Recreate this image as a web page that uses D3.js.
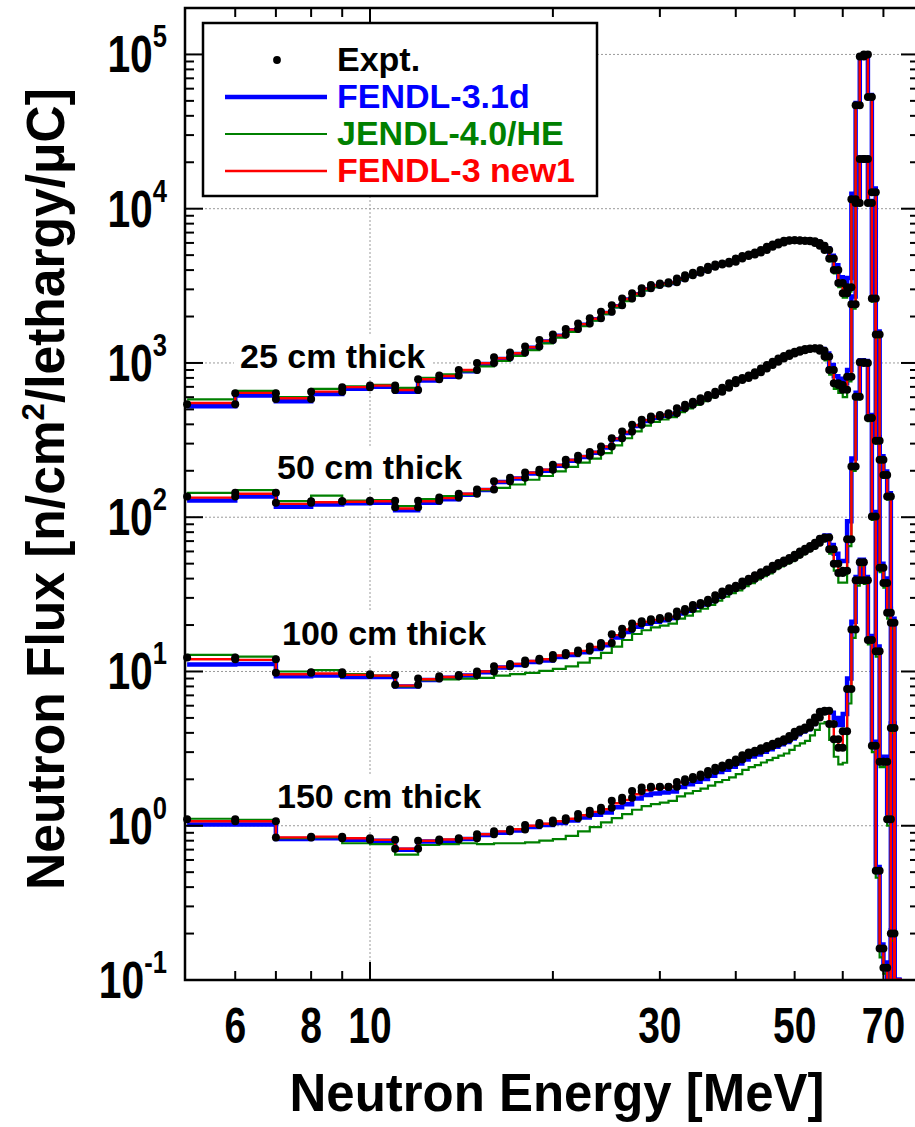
<!DOCTYPE html>
<html><head><meta charset="utf-8">
<script src="https://cdn.jsdelivr.net/npm/d3@7"></script>
<style>
body{margin:0;background:#fff}
svg{display:block}
text{font-family:"Liberation Sans",Arial,Helvetica,sans-serif;font-weight:bold}
</style>
</head><body>
<svg id="c" width="915" height="1127"></svg>
<script>
// ---------------- DATA ----------------
// energy bin edges [MeV]
const binEdges = [5,6,7,8,9,10,11,12,13,14,15,16,17,18,19,20,21,22,23,24,25,26,27,28,29,30,31,32,33,34,35,36,37,38,39,40,
  41,42,43,44,45,46,47,48,49,50,51,52,53,54,55,56,57,58,59,60,61,62,63,64,65,66,67,68,69,70,71,72,73,74,75];

const seriesNames = ["Expt.","FENDL-3.1d","JENDL-4.0/HE","FENDL-3 new1"];
const seriesColors = ["#000000","#0000ff","#008000","#ff0000"];
const thicknessLabels = ["25 cm thick","50 cm thick","100 cm thick","150 cm thick"];

// 25 cm
const expt25 = [540,637,585,650,695,715,668,785,830,900,
  1000,1090,1170,1280,1410,1530,1660,1800,1950,2150,
  2370,2620,2830,3050,3200,3280,3340,3530,3700,3840,
  4000,4200,4350,4420,4530,4760,4930,5050,5200,5390,
  5660,5860,6040,6190,6250,6250,6200,6200,6150,6000,
  5750,5400,4760,4000,3300,2830,3100,11500,46800,97000,
  100000,53000,12800,313,236,188,136,0,0,0];
const fendl31d25 = [525,615,565,630,680,700,650,770,815,885,
  985,1062,1145,1255,1380,1500,1630,1770,1920,2110,
  2330,2580,2790,3010,3160,3240,3300,3490,3660,3800,
  3960,4160,4310,4390,4500,4730,4900,5020,5170,5360,
  5630,5830,6010,6160,6230,6250,6220,6230,6200,6080,
  5850,5550,4950,4300,3600,3250,3550,12500,48500,98000,
  101000,54500,13500,330,248,198,143,0,0,0];
const jendl25 = [580,660,600,680,705,720,690,800,845,880,
  950,1030,1110,1210,1340,1460,1590,1730,1880,2070,
  2290,2520,2730,2950,3100,3200,3280,3450,3630,3780,
  3950,4150,4300,4380,4500,4700,4880,5000,5150,5340,
  5600,5800,5980,6120,6200,6200,6150,6150,6100,5950,
  5650,5250,4550,3800,3100,2650,2900,10800,45000,95000,
  99000,52000,12500,300,225,180,130,0,0,0];
const fendlNew25 = [550,640,590,652,697,713,668,784,823,901,
  996,1072,1156,1265,1390,1510,1645,1785,1935,2130,
  2350,2600,2810,3030,3180,3260,3320,3510,3680,3820,
  3980,4180,4330,4400,4510,4740,4910,5030,5180,5370,
  5640,5840,6020,6170,6230,6230,6180,6180,6130,5980,
  5720,5350,4700,3950,3250,2800,3080,11400,46500,96500,
  99500,52700,12700,310,234,186,135,0,0,0];

// 50 cm
const expt50 = [136,144,124,127,127,128,116,128,134,142,
  151,171,180,195,203,219,236,250,265,287,
  325,359,397,428,449,460,472,509,535,561,
  590,620,650,690,740,776,800,830,870,920,
  970,1020,1070,1110,1150,1180,1210,1230,1240,1245,
  1200,1100,900,740,720,670,815,2400,10900,21000,
  21000,10900,2620,1530,47,37.5,24,20.7,0,0];
const fendl31d50 = [128.5,136,117,121,123,124,111,124,131,140,
  150,169,178,192,200,216,232,246,262,283,
  320,352,390,420,442,455,468,503,530,556,
  585,615,645,685,733,770,795,825,865,913,
  962,1012,1060,1100,1140,1170,1200,1222,1235,1250,
  1230,1150,970,820,790,740,900,2700,11500,21500,
  21500,11200,2700,1600,50,40,25.5,22,0,0];
const jendl50 = [144,150,127,138,128,129,118,131,137,140,
  150,155,163,175,185,198,212,226,240,260,
  292,325,360,392,415,430,445,480,508,535,
  565,598,630,670,718,755,782,812,852,900,
  950,1000,1050,1090,1130,1160,1190,1210,1220,1225,
  1160,1040,840,680,640,600,760,2250,10500,20500,
  20600,10600,2500,1450,44,35,22,19,0,0];
const fendlNew50 = [134,142,122,125,126,127,114,127,133,142,
  152,170,180,194,203,218,235,249,265,286,
  323,357,395,426,448,460,472,508,534,560,
  590,620,650,690,738,775,800,830,870,918,
  968,1018,1068,1108,1148,1178,1208,1228,1238,1240,
  1195,1090,890,735,705,660,810,2380,10800,20800,
  20900,10800,2600,1510,46,37,23.5,20.5,0,0];

// 100 cm
const expt100 = [12.3,12.0,9.8,9.9,9.6,9.5,8.2,9.0,9.3,9.5,
  10.0,10.8,11.2,11.8,12.1,12.8,13.2,13.7,14.5,15.3,
  17.4,18.9,20.5,21.2,21.8,22.2,22.8,24.5,25.4,27.0,
  27.8,29.2,31.2,33.0,34.7,36.0,38.3,39.9,42.0,44.0,
  45.8,48.5,50.5,52.5,54.4,57.1,60.0,62.5,65.0,68.3,
  72.5,74.0,62,50,43.5,45,72,213,604,1010,
  1000,440,101,13.5,2.6,2.6,1.1,4.3,0,0];
const fendl31d100 = [11.1,11.2,9.3,9.4,9.2,9.2,8.0,8.8,9.1,9.4,
  9.9,10.6,11.0,11.5,11.8,12.4,12.8,13.3,14.0,14.8,
  16.6,18.0,19.5,20.4,21.0,21.5,22.2,23.8,24.8,26.3,
  27.2,28.6,30.5,32.3,34.0,35.4,37.6,39.2,41.3,43.4,
  45.2,47.8,49.8,51.9,54.0,56.8,59.8,62.3,65.0,68.5,
  73.5,76.0,66,58,52,52,94,240,640,1040,
  1030,460,108,14.5,2.8,2.8,1.2,4.6,0,0];
const jendl100 = [12.8,12.5,10.0,10.2,9.6,9.4,8.0,8.8,8.9,9.0,
  9.1,9.4,9.6,9.8,10.1,10.4,10.8,11.4,12.2,13.2,
  14.5,16.0,17.5,18.5,19.3,19.8,20.4,22.0,23.0,24.5,
  25.5,27.0,28.8,30.5,32.2,33.6,35.8,37.4,39.5,41.5,
  43.3,46.0,48.0,50.0,52.0,54.6,57.5,60.0,62.5,65.8,
  70.0,71.5,58,45,37.7,37.7,65,200,580,980,
  970,420,96,12.5,2.4,2.4,1.0,4.0,0,0];
const fendlNew100 = [12.0,11.9,9.6,9.7,9.5,9.4,8.1,8.9,9.2,9.5,
  10.0,10.7,11.2,11.7,12.0,12.7,13.1,13.6,14.4,15.2,
  17.2,18.7,20.3,21.0,21.6,22.0,22.6,24.3,25.2,26.8,
  27.6,29.0,31.0,32.8,34.5,35.8,38.0,39.6,41.7,43.7,
  45.5,48.2,50.2,52.2,54.1,56.8,59.7,62.2,64.8,68.0,
  72.0,73.5,61,49,42.5,44,71,212,600,1005,
  995,436,100,13.3,2.55,2.55,1.08,4.25,0,0];

// 150 cm
const expt150 = [1.10,1.07,0.84,0.85,0.83,0.81,0.71,0.80,0.815,0.83,
  0.88,0.92,0.945,1.01,1.04,1.08,1.12,1.19,1.25,1.31,
  1.45,1.52,1.68,1.77,1.79,1.78,1.79,1.92,2.00,2.07,
  2.15,2.26,2.38,2.46,2.56,2.69,2.86,2.98,3.06,3.18,
  3.29,3.40,3.52,3.63,3.82,4.06,4.20,4.33,4.67,5.03,
  5.48,5.56,4.56,3.63,3.2,4.1,7.7,18.7,39,51,
  39,16,3.3,0.51,0.16,0.12,0,0.2,0,0];
const fendl31d150 = [1.02,1.02,0.82,0.83,0.81,0.80,0.70,0.79,0.80,0.82,
  0.87,0.90,0.93,0.98,1.01,1.04,1.08,1.13,1.18,1.22,
  1.32,1.38,1.50,1.58,1.62,1.64,1.67,1.78,1.86,1.93,
  2.01,2.11,2.23,2.31,2.41,2.53,2.69,2.81,2.90,3.02,
  3.13,3.25,3.37,3.49,3.68,3.92,4.08,4.22,4.56,4.94,
  5.40,5.62,5.4,5.0,4.5,5.3,9.0,21,41,53,
  41,17,3.5,0.54,0.17,0.13,0,0.21,0,0];
const jendl150 = [1.11,1.09,0.83,0.84,0.77,0.76,0.65,0.75,0.76,0.77,
  0.76,0.77,0.77,0.78,0.80,0.82,0.86,0.92,0.98,1.05,
  1.12,1.19,1.27,1.34,1.38,1.41,1.45,1.55,1.62,1.68,
  1.74,1.82,1.92,1.98,2.06,2.16,2.30,2.40,2.47,2.57,
  2.66,2.75,2.85,2.94,3.10,3.30,3.42,3.55,3.85,4.18,
  4.60,4.70,3.6,2.8,2.5,2.56,6.2,16.5,36,48,
  37,15,3.0,0.46,0.14,0.11,0,0.18,0,0];
const fendlNew150 = [1.07,1.07,0.84,0.85,0.83,0.81,0.71,0.80,0.815,0.83,
  0.88,0.92,0.95,1.00,1.03,1.07,1.11,1.17,1.23,1.28,
  1.40,1.47,1.60,1.70,1.74,1.76,1.79,1.91,1.99,2.06,
  2.14,2.25,2.37,2.45,2.55,2.68,2.85,2.97,3.06,3.18,
  3.29,3.40,3.52,3.63,3.82,4.06,4.20,4.33,4.67,5.03,
  5.45,5.55,4.6,3.7,3.3,4.0,7.6,18.5,38.5,50.5,
  38.5,15.8,3.25,0.5,0.158,0.118,0,0.198,0,0];

const xTickLabels = [6,8,10,30,50,70];
const yTickExps = [-1,0,1,2,3,4,5];

// ---------------- LAYOUT ----------------
const L = 185, R = 917, T = 8, B = 980;
const svg = d3.select("#c");
svg.append("rect").attr("width",915).attr("height",1127).attr("fill","#fff");

const x = d3.scaleLog().domain([4.96, 79.5]).range([L, R]);
const y = d3.scaleLog().domain([0.1, 2e5]).range([B, T]).clamp(true);

svg.append("defs").append("clipPath").attr("id","plot")
  .append("rect").attr("x",L).attr("y",T).attr("width",R-L).attr("height",B-T-1);

// grid
const grid = svg.append("g").attr("stroke","#9a9a9a").attr("stroke-width",1).attr("stroke-dasharray","2,2");
yTickExps.forEach(k => {
  const v = Math.pow(10,k);
  grid.append("line").attr("x1",L).attr("x2",R).attr("y1",y(v)).attr("y2",y(v));
});
grid.append("line").attr("x1",x(10)).attr("x2",x(10)).attr("y1",T).attr("y2",B);

// thickness labels with white background
const labelPos = [[240,368],[277,479],[282,645],[277,808]];
thicknessLabels.forEach((t,i) => {
  const g = svg.append("g");
  const bg = g.append("rect").attr("fill","#fff");
  const tx = g.append("text").attr("x",labelPos[i][0]).attr("y",labelPos[i][1])
    .attr("font-size",34).attr("fill","#000").text(t);
  const bb = tx.node().getBBox();
  bg.attr("x",bb.x-6).attr("y",bb.y-2).attr("width",bb.width+12).attr("height",bb.height+4);
});

// series
const groups = [
  {expt:expt25, calc:[fendl31d25, jendl25, fendlNew25]},
  {expt:expt50, calc:[fendl31d50, jendl50, fendlNew50]},
  {expt:expt100, calc:[fendl31d100, jendl100, fendlNew100]},
  {expt:expt150, calc:[fendl31d150, jendl150, fendlNew150]}
];
const widths = [4.5, 2.2, 2.4];
const line = d3.line().curve(d3.curveStepAfter)
  .x(d => x(d[0])).y(d => y(Math.max(d[1], 1e-3)));
function stepPoints(vals){
  const pts = vals.map((v,i) => [binEdges[i], v]);
  pts.push([binEdges[vals.length], vals[vals.length-1]]);
  return pts;
}
const plot = svg.append("g").attr("clip-path","url(#plot)");
[0,1,2].forEach(s => {
  groups.forEach(gr => {
    plot.append("path").attr("d", line(stepPoints(gr.calc[s])))
      .attr("fill","none").attr("stroke", seriesColors[s+1])
      .attr("stroke-width", widths[s]).attr("stroke-linejoin","miter");
  });
});
// experimental dots at both bin edges
const dots = svg.append("g").attr("fill","#000");
groups.forEach(gr => {
  gr.expt.forEach((v,i) => {
    if (v <= 0) return;
    [binEdges[i], binEdges[i+1]].forEach(e => {
      dots.append("circle").attr("cx", x(e)).attr("cy", y(v)).attr("r", 4);
    });
  });
});

// frame
svg.append("rect").attr("x",L).attr("y",T).attr("width",R-L).attr("height",B-T)
  .attr("fill","none").attr("stroke","#000").attr("stroke-width",2.5);

// ticks
const ax = svg.append("g").attr("stroke","#000").attr("stroke-width",2);
for (let k=-1; k<=5; k++){
  for (let m=1; m<=9; m++){
    const v = m*Math.pow(10,k);
    if (v < 0.1 || v > 2e5) continue;
    const yy = y(v);
    const major = m===1;
    ax.append("line").attr("x1",L).attr("x2",L+(major?18:9)).attr("y1",yy).attr("y2",yy);
    ax.append("line").attr("x1",R).attr("x2",R-(major?16:7)).attr("y1",yy).attr("y2",yy);
  }
}
const xTicks = [6,7,8,9,10,20,30,40,50,60,70];
xTicks.forEach(v => {
  const xx = x(v);
  const major = v===10;
  ax.append("line").attr("x1",xx).attr("x2",xx).attr("y1",B).attr("y2",B-(major?18:9));
  ax.append("line").attr("x1",xx).attr("x2",xx).attr("y1",T).attr("y2",T+(major?14:9));
});

// tick labels
xTickLabels.forEach(v => {
  svg.append("g").attr("transform",`translate(${x(v)},1043) scale(0.78,1)`)
    .append("text").attr("text-anchor","middle").attr("font-size",50).attr("fill","#000").text(v);
});
yTickExps.forEach(k => {
  const t = svg.append("g").attr("transform",`translate(167,${y(Math.pow(10,k))}) scale(0.8,1)`)
    .append("text").attr("text-anchor","end").attr("y",18).attr("font-size",51).attr("fill","#000");
  t.append("tspan").text("10");
  t.append("tspan").attr("dy",-25).attr("font-size",32).text(k<0 ? "-"+Math.abs(k) : String(k));
});

// axis titles
const xt = svg.append("text").attr("text-anchor","middle").attr("font-size",54).attr("fill","#000")
  .text("Neutron Energy [MeV]");
const xw = xt.node().getBBox().width;
xt.attr("transform",`translate(557,1111) scale(${535/xw},1)`);

const yt = svg.append("text").attr("text-anchor","middle").attr("font-size",53).attr("fill","#000");
yt.append("tspan").text("Neutron Flux [n/cm");
yt.append("tspan").attr("dy",-20).attr("font-size",32).text("2");
yt.append("tspan").attr("dy",20).text("/lethargy/\u03BCC]");
const yw = yt.node().getBBox().width;
yt.attr("transform",`translate(64,489) rotate(-90) scale(${802/yw},1)`);

// legend
const lg = svg.append("g");
lg.append("rect").attr("x",203).attr("y",23).attr("width",394).attr("height",173)
  .attr("fill","#fff").attr("stroke","#000").attr("stroke-width",2.5);
const legY = [71,108,145,182];
seriesNames.forEach((n,i) => {
  if (i===0) {
    lg.append("circle").attr("cx",277).attr("cy",legY[i]-11).attr("r",3.9).attr("fill","#000");
  } else {
    lg.append("line").attr("x1",225).attr("x2",327).attr("y1",legY[i]-11).attr("y2",legY[i]-11)
      .attr("stroke",seriesColors[i]).attr("stroke-width",widths[i-1]);
  }
  lg.append("text").attr("x",337).attr("y",legY[i]).attr("font-size",34)
    .attr("fill",seriesColors[i]).text(n);
});
</script>
</body></html>
